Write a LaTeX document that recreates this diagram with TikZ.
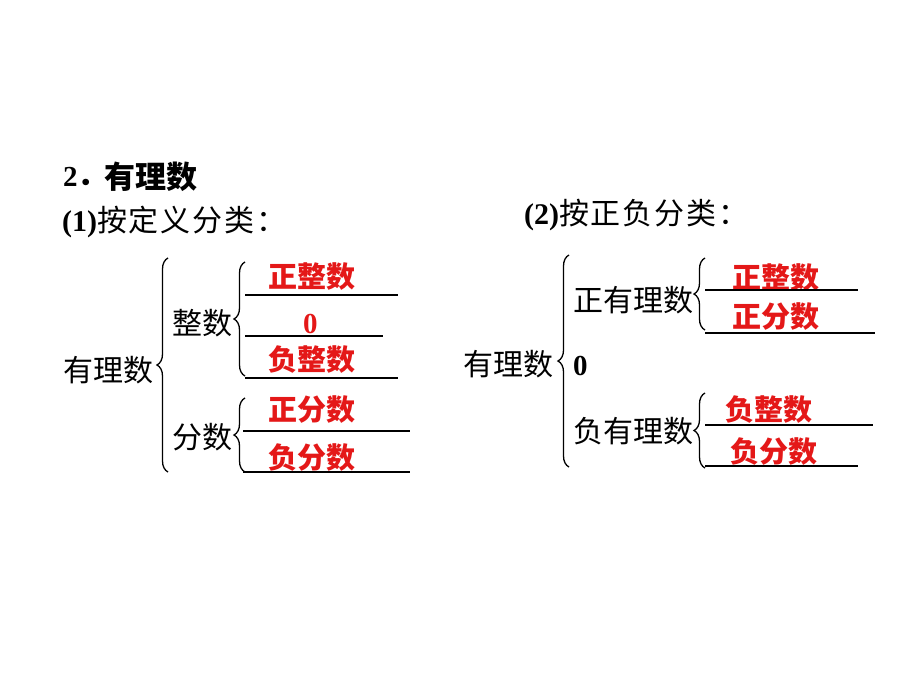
\documentclass[tikz,border=0pt]{standalone}
\usepackage{fontspec}
\setmainfont{Liberation Serif}
\newfontfamily\cjk{Noto Sans CJK SC}
\newfontfamily\cjksp{Noto Sans CJK SC}[LetterSpace=6]
\usetikzlibrary{decorations.pathreplacing}
\definecolor{ansred}{RGB}{228,24,24}
\begin{document}
\begin{tikzpicture}[x=1pt,y=-1pt,
  blk/.style={inner sep=0pt, anchor=west, font=\cjk\fontsize{30}{34}\selectfont},
  ans/.style={inner sep=0pt, anchor=west, text=ansred, font=\cjk\bfseries\fontsize{29}{34}\selectfont},
  num/.style={inner sep=0pt, anchor=west, font=\bfseries\fontsize{29}{34}\selectfont},
  brc/.style={decorate, decoration={brace, amplitude=11pt}, line width=1.3pt},
  uline/.style={line width=1.4pt}]
\useasboundingbox[fill=white] (0,0) rectangle (920,690);

% headings
\node[num] (h2) at (63,177) {2\cjk．};
\node[inner sep=0pt, anchor=west, font=\cjk\bfseries\fontsize{31}{36}\selectfont] (hy) at (104,177) {有理数};
\node[inner sep=0pt, anchor=west, font=\fontsize{30}{34}\selectfont] (t1) at (62,222) {\textbf{(1)}{\cjksp 按定义分类：}};
\node[inner sep=0pt, anchor=west, font=\fontsize{30}{34}\selectfont] (t2) at (524,215) {\textbf{(2)}{\cjksp 按正负分类：}};

% left diagram
\node[blk] (L) at (63,370) {有理数};
\draw[brc] (168,472) -- (168,258);
\node[blk] (Lz) at (172,323) {整数};
\node[blk] (Lf) at (172,437) {分数};
\draw[brc] (245,376) -- (245,262);
\draw[brc] (245,472) -- (245,398);

\node[ans] (a1) at (268,277) {正整数};
\draw[uline] (245,295) -- (398,295);
\node[num, text=ansred] (a2) at (303,324) {0};
\draw[uline] (245,336) -- (383,336);
\node[ans] (a3) at (268,360) {负整数};
\draw[uline] (245,378) -- (398,378);
\node[ans] (a4) at (268,410) {正分数};
\draw[uline] (243,431) -- (410,431);
\node[ans] (a5) at (268,458) {负分数};
\draw[uline] (243,472) -- (410,472);

% right diagram
\node[blk] (R) at (463,364) {有理数};
\draw[brc] (569,467) -- (569,255);
\node[num] (R0) at (573,366) {0};
\node[blk] (Rp) at (573,300) {正有理数};
\node[blk] (Rn) at (573,431) {负有理数};
\draw[brc] (705,330) -- (705,258);
\draw[brc] (705,468) -- (705,393);

\node[ans] (b1) at (732,278) {正整数};
\draw[uline] (705,290) -- (858,290);
\node[ans] (b2) at (732,317) {正分数};
\draw[uline] (705,333) -- (875,333);
\node[ans] (b3) at (725,410) {负整数};
\draw[uline] (705,425) -- (873,425);
\node[ans] (b4) at (730,452) {负分数};
\draw[uline] (705,466) -- (858,466);
\end{tikzpicture}
\end{document}
